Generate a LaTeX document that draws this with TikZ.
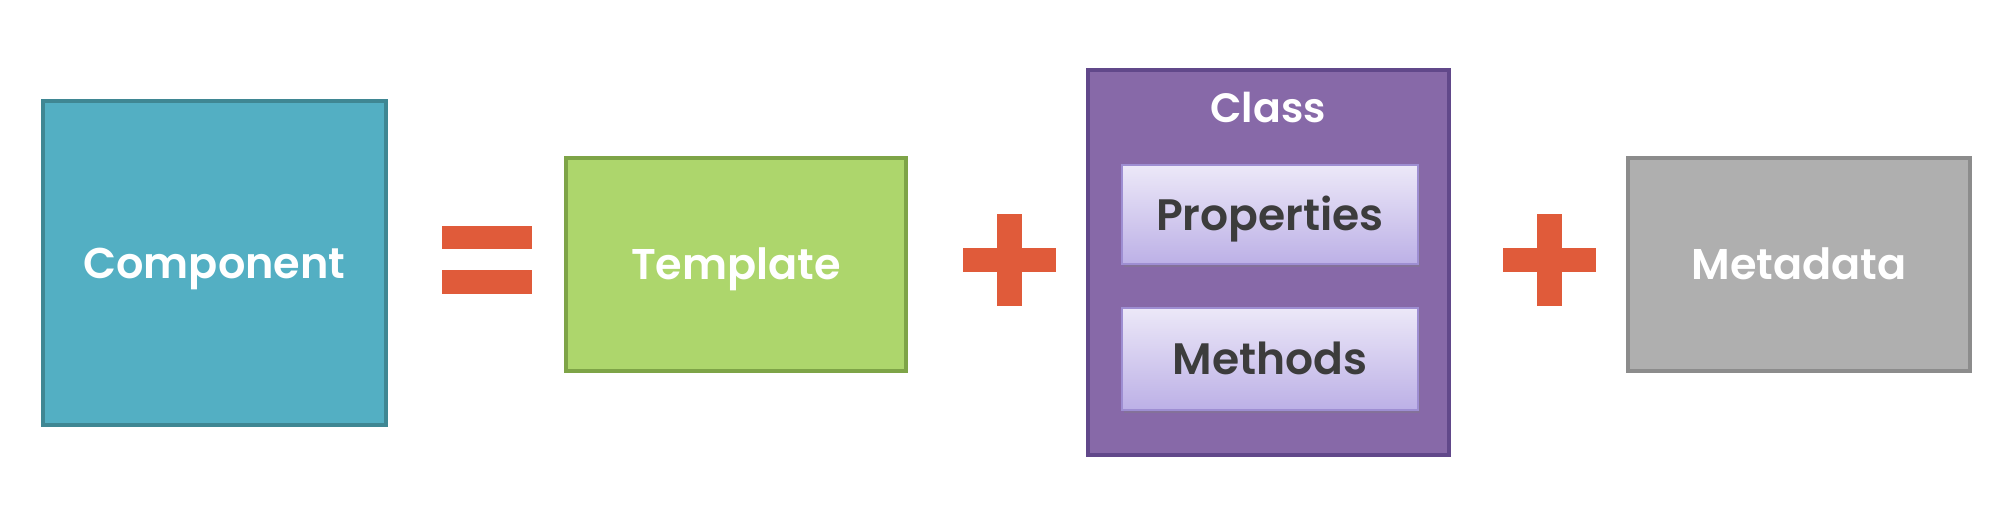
\documentclass[tikz,border=0pt]{standalone}
\usepackage{fontspec}
\setmainfont{Poppins}[UprightFont=* SemiBold]
\usetikzlibrary{shadows}
\definecolor{tealfill}{HTML}{53AFC3}
\definecolor{tealline}{HTML}{3F8793}
\definecolor{greenfill}{HTML}{ADD66C}
\definecolor{greenline}{HTML}{7EA447}
\definecolor{purplefill}{HTML}{8769A8}
\definecolor{purpleline}{HTML}{61488A}
\definecolor{grayfill}{HTML}{AFAFAF}
\definecolor{grayline}{HTML}{8C8C8C}
\definecolor{opcolor}{HTML}{E05B3A}
\definecolor{lilactop}{HTML}{ECE8F8}
\definecolor{lilacbot}{HTML}{BCB0E6}
\definecolor{lilacline}{HTML}{9E8ED2}
\definecolor{darktext}{HTML}{3C3C3C}
\tikzset{
  bigbox/.style={rectangle, line width=2pt, text=white, inner sep=0pt,
    font=\fontsize{21.5}{21.5}\selectfont, text height=15.5pt, text depth=0pt},
  subbox/.style={rectangle, line width=1pt, draw=lilacline, top color=lilactop,
    bottom color=lilacbot, text=darktext, inner sep=0pt,
    minimum width=148pt, font=\fontsize{22}{22}\selectfont,
    text height=15.5pt, text depth=0pt,
    drop shadow={opacity=0.35, shadow xshift=0.8pt, shadow yshift=-1.5pt}},
  opbar/.style={fill=opcolor}
}
\begin{document}
\begin{tikzpicture}[x=0.5pt, y=-0.5pt]
\useasboundingbox[fill=white] (0,0) rectangle (2016,506);
% main boxes
\node[bigbox, fill=tealfill, draw=tealline, minimum width=171.5pt, minimum height=162pt]
  (component) at (214.5,263) {Component};
\node[bigbox, fill=greenfill, draw=greenline, minimum width=170pt, minimum height=106.5pt]
  (template) at (736,264.5) {Template};
\node[bigbox, fill=purplefill, draw=purpleline, minimum width=180.5pt, minimum height=192.5pt]
  (class) at (1268.5,262.5) {};
\node[bigbox, fill=grayfill, draw=grayline, minimum width=171pt, minimum height=106.5pt]
  (metadata) at (1799,264.5) {Metadata};
% class contents
\node[text=white, inner sep=0pt, font=\fontsize{20.5}{20.5}\selectfont, text height=15.5pt, text depth=0pt]
  (classlabel) at (1268,107) {Class};
\node[subbox, minimum height=49.5pt] (properties) at (1270,215) {Properties};
\node[subbox, minimum height=51pt] (methods) at (1270,359) {Methods};
% equals sign
\fill[opbar] (442,226) rectangle (532,249);
\fill[opbar] (442,270) rectangle (532,294);
% plus signs
\fill[opbar] (997,214) rectangle (1022,306);
\fill[opbar] (963,248) rectangle (1056,272);
\fill[opbar] (1537,214) rectangle (1562,306);
\fill[opbar] (1503,248) rectangle (1596,272);
\end{tikzpicture}
\end{document}
